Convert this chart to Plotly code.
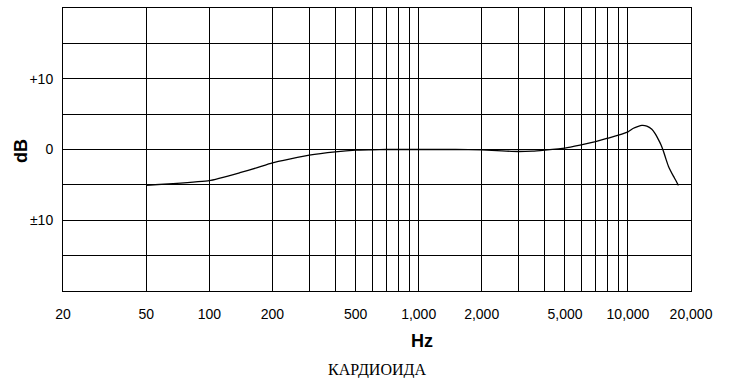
import math
import plotly.graph_objects as go

# Frequency response (cardioid)
freq_hz = [50, 67, 100, 140, 168, 200, 300, 400, 500, 600, 700, 1000, 1500, 2000,
           2500, 3000, 3500, 4000, 5000, 5900, 7000, 8000, 9000, 10000, 10620,
           11640, 12300, 13000, 13480, 13980, 14390, 14770, 15200, 15600, 16480,
           16980, 17420]
level_db = [-5.05, -4.83, -4.41, -3.28, -2.6, -1.88, -0.8, -0.33, -0.1, -0.05, 0.0, 0.0,
            0.0, -0.05, -0.2, -0.28, -0.22, -0.08, 0.2, 0.62, 1.13, 1.6, 2.02, 2.5, 3.0,
            3.4, 3.3, 2.85, 2.25, 1.4, 0.65, -0.24, -1.4, -2.35, -3.76, -4.45, -5.07]

x_grid_vals = [20, 50, 100, 200, 300, 400, 500, 600, 700, 800, 900, 1000,
               2000, 3000, 4000, 5000, 6000, 7000, 8000, 9000, 10000, 20000]
x_tick_labels = {20: "20", 50: "50", 100: "100", 200: "200", 500: "500",
                 1000: "1,000", 2000: "2,000", 5000: "5,000", 10000: "10,000",
                 20000: "20,000"}
y_grid_vals = [-20, -15, -10, -5, 0, 5, 10, 15, 20]
y_tick_labels = {10: "+10", 0: "0", -10: "±10"}

fig = go.Figure()
fig.add_trace(go.Scatter(
    x=freq_hz, y=level_db, mode="lines",
    line=dict(color="black", width=1.3, shape="spline", smoothing=0.4),
    hoverinfo="skip", showlegend=False))

fig.update_layout(
    width=738, height=378,
    margin=dict(l=63, r=47, t=8, b=87),
    paper_bgcolor="white", plot_bgcolor="white",
    font=dict(family="Liberation Sans, Arial, sans-serif", size=14, color="black"),
    xaxis=dict(
        type="log", range=[math.log10(20), math.log10(20000)],
        tickmode="array", tickvals=x_grid_vals,
        ticktext=[x_tick_labels.get(v, "") for v in x_grid_vals],
        showgrid=True, gridcolor="black", gridwidth=1,
        showline=True, linecolor="black", linewidth=1, mirror=True,
        ticks="outside", ticklen=10, tickcolor="rgba(0,0,0,0)",
        zeroline=False, tickfont=dict(size=14),
    ),
    yaxis=dict(
        range=[-20, 20], tickmode="array", tickvals=y_grid_vals,
        ticktext=[y_tick_labels.get(v, "") for v in y_grid_vals],
        showgrid=True, gridcolor="black", gridwidth=1,
        showline=True, linecolor="black", linewidth=1, mirror=True,
        ticks="outside", ticklen=6, tickcolor="rgba(0,0,0,0)",
        zeroline=False, tickfont=dict(size=14),
    ),
    annotations=[
        dict(text="<b>Hz</b>", xref="paper", yref="paper", x=(422 - 63) / 628,
             y=-(341 - 291) / 283, xanchor="center", yanchor="middle",
             showarrow=False, font=dict(size=18)),
        dict(text="<b>dB</b>", xref="paper", yref="paper", x=-(63 - 21) / 628,
             y=(291 - 151) / 283, xanchor="center", yanchor="middle",
             textangle=-90, showarrow=False, font=dict(size=18)),
        dict(text="КАРДИОИДА", xref="paper", yref="paper", x=(377 - 63) / 628,
             y=-(370 - 291) / 283, xanchor="center", yanchor="middle",
             showarrow=False,
             font=dict(family="Liberation Serif, DejaVu Serif, serif", size=16)),
    ],
)

fig.write_html("out.html")
